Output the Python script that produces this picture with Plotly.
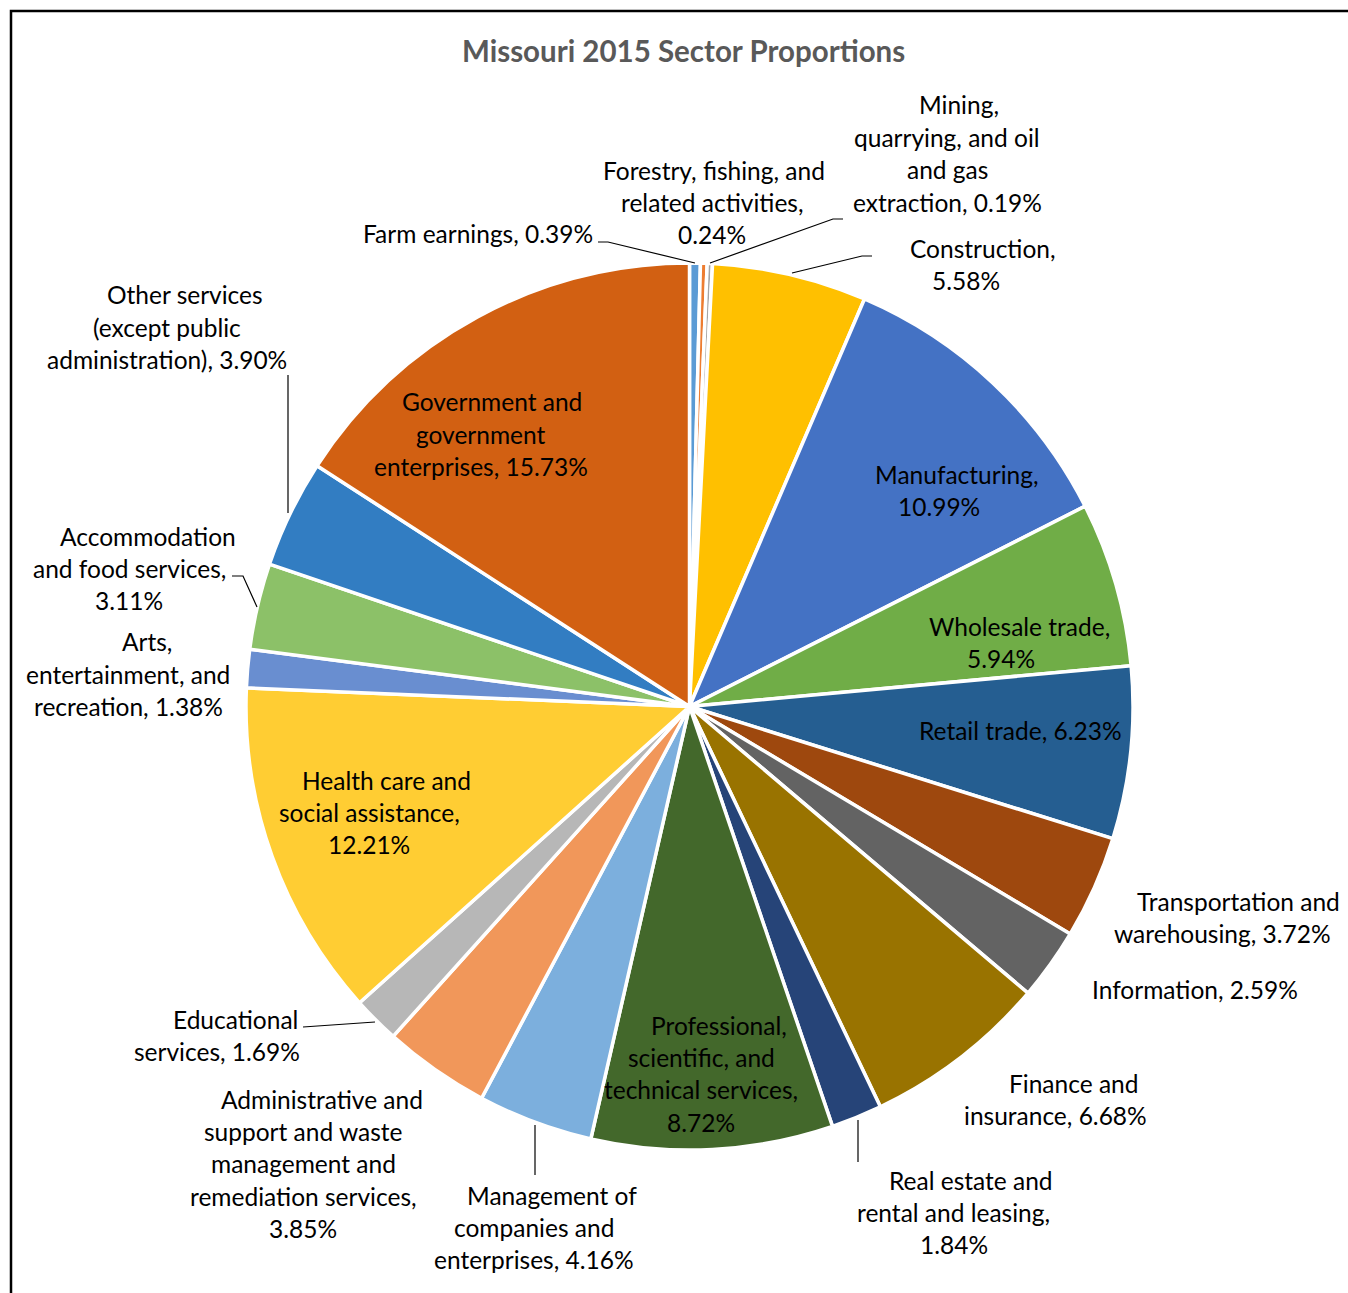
import plotly.graph_objects as go

W, H = 1348, 1293

# Sector names as displayed (line breaks where the label wraps)
sectors = [
    "Farm earnings",
    "Forestry, fishing, and\nrelated activities",
    "Mining,\nquarrying, and oil\nand gas\nextraction",
    "Construction",
    "Manufacturing",
    "Wholesale trade",
    "Retail trade",
    "Transportation and\nwarehousing",
    "Information",
    "Finance and\ninsurance",
    "Real estate and\nrental and leasing",
    "Professional,\nscientific, and\ntechnical services",
    "Management of\ncompanies and\nenterprises",
    "Administrative and\nsupport and waste\nmanagement and\nremediation services",
    "Educational\nservices",
    "Health care and\nsocial assistance",
    "Arts,\nentertainment, and\nrecreation",
    "Accommodation\nand food services",
    "Other services\n(except public\nadministration)",
    "Government and\ngovernment\nenterprises",
]

# Share of 2015 earnings, percent
shares = [0.39, 0.24, 0.19, 5.58, 10.99, 5.94, 6.23, 3.72, 2.59, 6.68,
          1.84, 8.72, 4.16, 3.85, 1.69, 12.21, 1.38, 3.11, 3.90, 15.73]

# Whether the percentage goes on its own line in the label
pct_on_new_line = [False, True, False, True, True, True, False, False, False, False,
                   True, True, False, True, False, True, False, True, False, False]

colors = ["#5B9BD5", "#ED7D31", "#A5A5A5", "#FFC000", "#4472C4", "#70AD47",
          "#255E91", "#9E480E", "#636363", "#997300", "#264478", "#43682B",
          "#7CAFDD", "#F1975A", "#B7B7B7", "#FFCD33", "#698ED0", "#8CC168",
          "#327DC2", "#D26012"]

# Label anchor (pixel x of line centres, pixel y of first line)
label_pos = [(478, 234), (712, 170), (947, 105), (966, 248), (939, 474),
             (1001, 626), (1020, 730), (1222, 901), (1195, 989), (1055, 1083),
             (954, 1180), (701, 1025), (534, 1195), (303, 1099), (217, 1019),
             (369, 780), (128, 642), (129, 536), (167, 295), (481, 402)]

# Horizontal nudge of the first line of each wrapped label (pixels)
first_line_shift = [0, 2, 12, 17, 18, 18, 0, 16, 0, 18,
                    17, 18, 18, 19, 18, 17, 19, 19, 18, 11]

# Leader lines (pixel polylines)
leaders = [
    [(598, 242), (608, 242), (695, 263)],
    [(843, 219), (833, 219), (710, 263)],
    [(872, 256), (862, 256), (792, 273)],
    [(858, 1120), (858, 1162)],
    [(535, 1125), (535, 1175)],
    [(303, 1027), (375, 1022)],
    [(232, 576), (243, 576), (257, 607)],
    [(288, 375), (288, 513)],
]

LINE_GAP = 32.4
FONT = "Lato"
FONT_SIZE = 24.5


def px(x):
    return x / W


def py(y):
    return 1 - y / H


# Pie placement in pixels
cx, cy, r = 689.5, 706.5, 443.5

fig = go.Figure(go.Pie(
    labels=[s.replace("\n", " ") for s in sectors],
    values=shares,
    sort=False,
    direction="clockwise",
    rotation=0,
    marker=dict(colors=colors, line=dict(color="white", width=3.5)),
    textinfo="none",
    domain=dict(x=[px(cx - r), px(cx + r)], y=[py(cy + r), py(cy - r)]),
    showlegend=False,
))

annotations = []
for name, val, nl, (lx, ly), shift in zip(sectors, shares, pct_on_new_line,
                                          label_pos, first_line_shift):
    text = name + "," + ("\n" if nl else " ") + f"{val:.2f}%"
    for i, line in enumerate(text.split("\n")):
        annotations.append(dict(
            x=px(lx + (shift if i == 0 else 0)), y=py(ly + i * LINE_GAP),
            xref="paper", yref="paper",
            text=line, showarrow=False, xanchor="center", yanchor="middle",
            font=dict(family=FONT, size=FONT_SIZE, color="#000000"),
        ))

annotations.append(dict(
    x=px(683), y=py(51), xref="paper", yref="paper",
    text="<b>Missouri 2015 Sector Proportions</b>", showarrow=False,
    xanchor="center", yanchor="middle",
    font=dict(family=FONT, size=29.5, color="#595959"),
))

shapes = []
for pts in leaders:
    path = "M " + " L ".join(f"{px(x)},{py(y)}" for x, y in pts)
    shapes.append(dict(type="path", path=path, xref="paper", yref="paper",
                       line=dict(color="#000000", width=1.2)))

# Chart frame
shapes.append(dict(type="rect", xref="paper", yref="paper",
                   x0=px(11), x1=px(1400), y0=py(1340), y1=py(11),
                   line=dict(color="#000000", width=2.5)))

fig.update_layout(
    width=W, height=H,
    margin=dict(l=0, r=0, t=0, b=0),
    paper_bgcolor="white", plot_bgcolor="white",
    annotations=annotations, shapes=shapes,
)

fig.write_html("out.html")
